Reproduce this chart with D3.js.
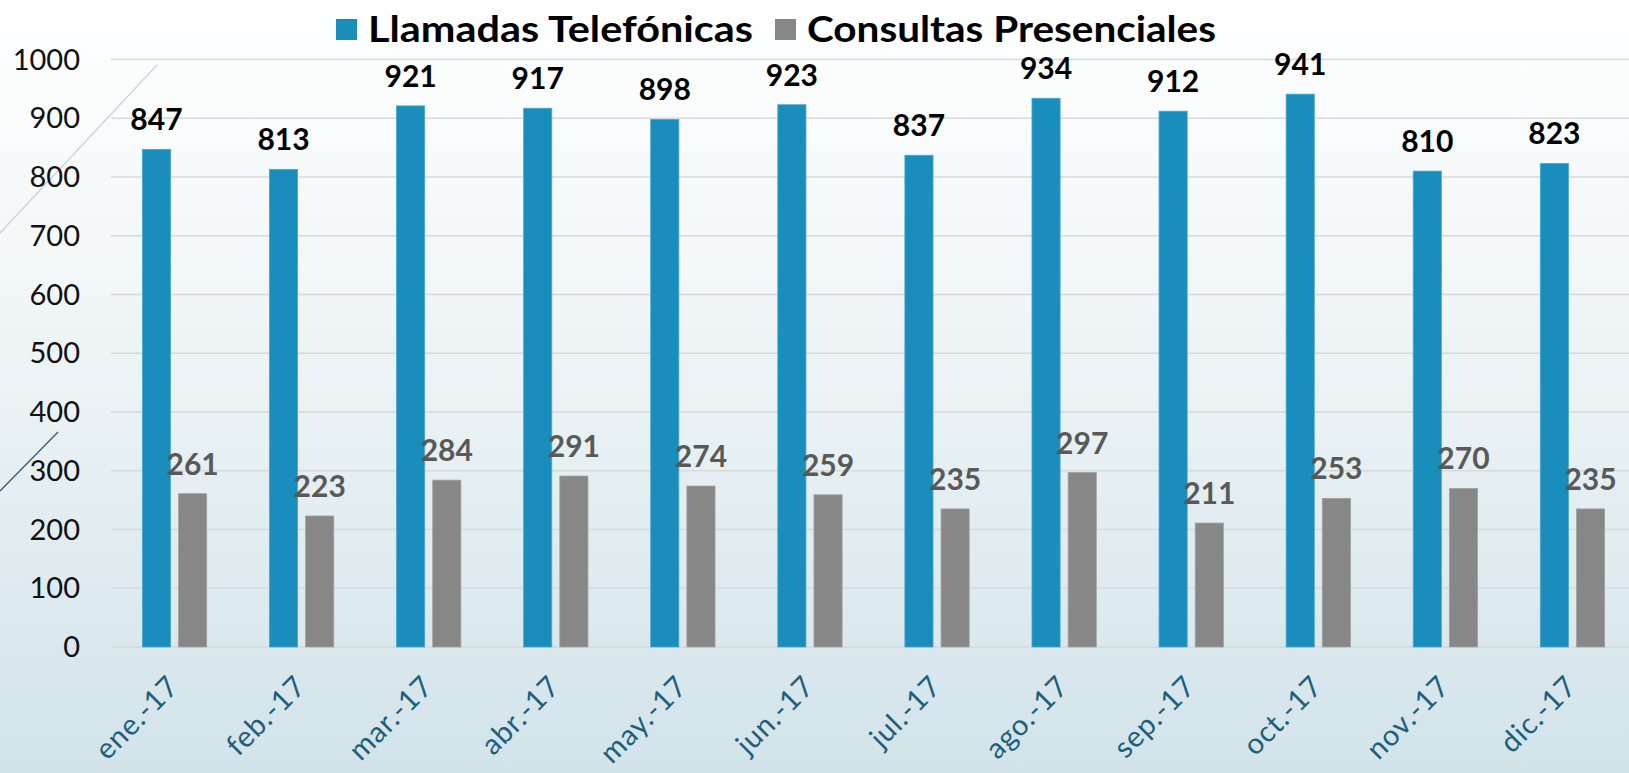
<!DOCTYPE html>
<html>
<head>
<meta charset="utf-8">
<script src="https://cdn.jsdelivr.net/npm/d3@7"></script>
<style>
  html, body { margin: 0; padding: 0; background: #fff; }
  svg { display: block; font-family: Lato, "Noto Sans", sans-serif; }
</style>
</head>
<body>
<svg id="chart"></svg>
<script>
// --- data ---
const months = ["ene.-17", "feb.-17", "mar.-17", "abr.-17", "may.-17", "jun.-17",
                "jul.-17", "ago.-17", "sep.-17", "oct.-17", "nov.-17", "dic.-17"];
const seriesNames = ["Llamadas Telefónicas", "Consultas Presenciales"];
const llamadas = [847, 813, 921, 917, 898, 923, 837, 934, 912, 941, 810, 823];
const consultas = [261, 223, 284, 291, 274, 259, 235, 297, 211, 253, 270, 235];
const yTicks = [0, 100, 200, 300, 400, 500, 600, 700, 800, 900, 1000];

const width = 1629;
const height = 773;
const plotLeft = 111, plotRight = 1636;
const plotTop = 59.5, plotBottom = 647;

const colors = { "Llamadas Telefónicas": "#198dbb", "Consultas Presenciales": "#878787" };
const labelColors = { "Llamadas Telefónicas": "#000000", "Consultas Presenciales": "#595959" };
// legend layout (x of square, width of text)
const legendLayout = {
    "Llamadas Telefónicas": { x: 336, textWidth: 385 },
    "Consultas Presenciales": { x: 775, textWidth: 409 }
};

const svg = d3.select("#chart")
    .attr("width", width)
    .attr("height", height)
    .attr("viewBox", [0, 0, width, height]);

// background gradient
const grad = svg.append("defs").append("linearGradient")
    .attr("id", "bg").attr("x1", 0).attr("y1", 0).attr("x2", 0).attr("y2", 1);
grad.append("stop").attr("offset", "0%").attr("stop-color", "#ffffff");
grad.append("stop").attr("offset", "35%").attr("stop-color", "#f2f7f8");
grad.append("stop").attr("offset", "100%").attr("stop-color", "#d2e3ea");
svg.append("rect").attr("width", width).attr("height", height).attr("fill", "url(#bg)");

// decorative theme lines
svg.append("line").attr("x1", 157).attr("y1", 65).attr("x2", 0).attr("y2", 233)
    .attr("stroke", "#c9d2da").attr("stroke-width", 1.2);
svg.append("line").attr("x1", 58).attr("y1", 432).attr("x2", 0).attr("y2", 491)
    .attr("stroke", "#3d5b78").attr("stroke-width", 1.4);

// --- scales ---
const y = d3.scaleLinear().domain([0, 1000]).range([plotBottom, plotTop]);
const x0 = d3.scaleBand().domain(months).range([plotLeft, plotRight]).padding(0);
const bw = x0.bandwidth();
const x1 = d3.scaleBand().domain(seriesNames)
    .range([bw * 0.247, bw * 0.753])
    .paddingInner(0.222).paddingOuter(0);

// gridlines
svg.append("g")
  .selectAll("line")
  .data(yTicks)
  .join("line")
    .attr("x1", plotLeft)
    .attr("x2", width)
    .attr("y1", d => y(d))
    .attr("y2", d => y(d))
    .attr("stroke", "#d9d9d9")
    .attr("stroke-width", 1.6);

// y axis labels
svg.append("g")
  .selectAll("text")
  .data(yTicks)
  .join("text")
    .attr("x", 80)
    .attr("y", d => y(d))
    .attr("dy", "0.35em")
    .attr("text-anchor", "end")
    .attr("font-size", 29)
    .attr("fill", "#111")
    .text(d => d);

// --- bars ---
const rows = months.map((m, i) => ({
    month: m,
    values: [
        { key: seriesNames[0], value: llamadas[i] },
        { key: seriesNames[1], value: consultas[i] }
    ]
}));

const groups = svg.append("g")
  .selectAll("g")
  .data(rows)
  .join("g")
    .attr("transform", d => `translate(${x0(d.month)},0)`);

groups.selectAll("rect")
  .data(d => d.values)
  .join("rect")
    .attr("x", d => x1(d.key))
    .attr("y", d => y(d.value))
    .attr("width", x1.bandwidth())
    .attr("height", d => y(0) - y(d.value))
    .attr("fill", d => colors[d.key])
    .attr("stroke", d => d.key === seriesNames[0] ? "#4aa6cc" : "#a0a0a0")
    .attr("stroke-width", 0.8);

groups.selectAll("text")
  .data(d => d.values)
  .join("text")
    .attr("x", d => x1(d.key) + x1.bandwidth() / 2)
    .attr("y", d => y(d.value) - 19)
    .attr("text-anchor", "middle")
    .attr("font-size", 30)
    .attr("font-weight", 700)
    .attr("fill", d => labelColors[d.key])
    .text(d => d.value);

// x axis labels (rotated)
svg.append("g")
  .selectAll("text")
  .data(months)
  .join("text")
    .attr("transform", d => `translate(${x0(d) + bw / 2 + 6},688) rotate(-45)`)
    .attr("text-anchor", "end")
    .attr("font-size", 29)
    .attr("letter-spacing", 0.8)
    .attr("fill", "#1d5f7d")
    .text(d => d);

// --- legend ---
const legend = svg.append("g").attr("transform", "translate(0,19)");
seriesNames.forEach(name => {
    const lay = legendLayout[name];
    const item = legend.append("g").attr("transform", `translate(${lay.x},0)`);
    item.append("rect")
        .attr("width", 21).attr("height", 21)
        .attr("fill", colors[name]);
    item.append("text")
        .attr("x", 32)
        .attr("y", 23)
        .attr("font-size", 37)
        .attr("font-weight", 700)
        .attr("fill", "#000")
        .attr("textLength", lay.textWidth)
        .attr("lengthAdjust", "spacingAndGlyphs")
        .text(name);
});
</script>
</body>
</html>
